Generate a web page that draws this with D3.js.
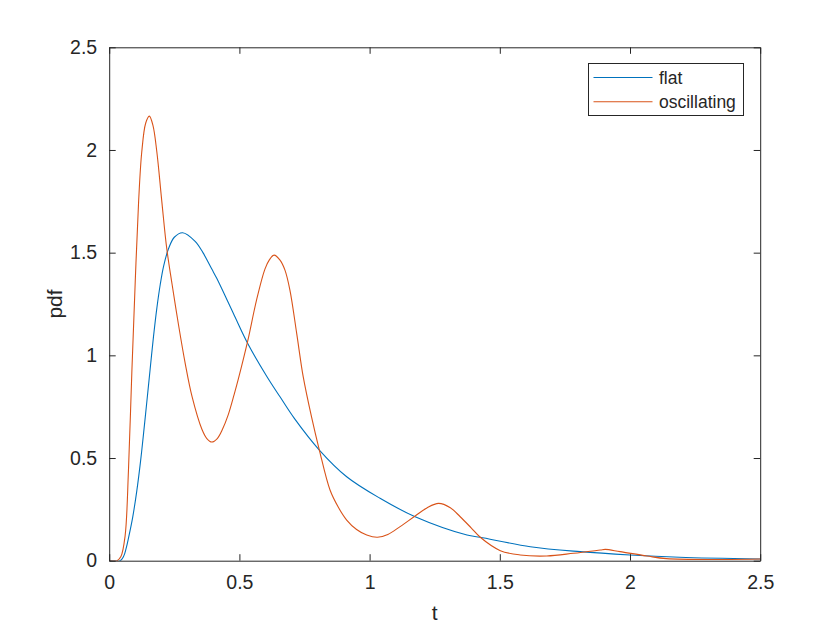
<!DOCTYPE html>
<html>
<head>
<meta charset="utf-8">
<script src="https://cdn.jsdelivr.net/npm/d3@7"></script>
<style>
  html, body { margin: 0; padding: 0; background: #fff; }
  svg { display: block; }
  text { font-family: "Liberation Sans", Arial, Helvetica, sans-serif; fill: #262626; }
</style>
</head>
<body>
<svg id="chart" width="840" height="630"></svg>
<script>
// ---- data ----
const seriesNames = ["flat", "oscillating"];

const tFlat = [0, 0.042, 0.055, 0.065, 0.074, 0.09, 0.106, 0.12, 0.132, 0.145, 0.157, 0.17, 0.183, 0.196, 0.209, 0.228, 0.25, 0.282, 0.33, 0.36, 0.394, 0.413, 0.477, 0.532, 0.606, 0.656, 0.711, 0.807, 0.912, 1.04, 1.175, 1.374, 1.425, 1.617, 1.808, 2.0, 2.19, 2.5];
const pdfFlat = [0, 0, 0.02, 0.06, 0.11, 0.21, 0.34, 0.48, 0.62, 0.78, 0.93, 1.09, 1.23, 1.345, 1.435, 1.52, 1.575, 1.597, 1.555, 1.50, 1.42, 1.375, 1.204, 1.058, 0.896, 0.798, 0.693, 0.539, 0.409, 0.304, 0.214, 0.125, 0.114, 0.068, 0.044, 0.028, 0.017, 0.008];

const tOsc = [0, 0.03, 0.045, 0.061, 0.074, 0.087, 0.1, 0.113, 0.125, 0.14, 0.154, 0.168, 0.183, 0.202, 0.221, 0.241, 0.266, 0.292, 0.318, 0.356, 0.375, 0.394, 0.415, 0.435, 0.457, 0.48, 0.496, 0.532, 0.566, 0.598, 0.615, 0.633, 0.656, 0.675, 0.694, 0.72, 0.745, 0.777, 0.807, 0.848, 0.88, 0.912, 0.95, 0.989, 1.03, 1.07, 1.117, 1.175, 1.22, 1.265, 1.31, 1.348, 1.39, 1.425, 1.502, 1.578, 1.68, 1.783, 1.886, 1.905, 1.962, 2.065, 2.14, 2.35, 2.5];
const pdfOsc = [0, 0, 0.02, 0.12, 0.44, 0.92, 1.36, 1.75, 1.99, 2.13, 2.165, 2.12, 1.99, 1.75, 1.52, 1.35, 1.15, 0.96, 0.80, 0.64, 0.595, 0.578, 0.595, 0.64, 0.71, 0.81, 0.885, 1.07, 1.27, 1.42, 1.465, 1.488, 1.464, 1.415, 1.318, 1.107, 0.896, 0.70, 0.539, 0.344, 0.26, 0.198, 0.152, 0.125, 0.114, 0.128, 0.166, 0.218, 0.257, 0.279, 0.258, 0.214, 0.16, 0.114, 0.049, 0.028, 0.023, 0.036, 0.052, 0.055, 0.044, 0.023, 0.01, 0.006, 0.008];

const xTicks = [0, 0.5, 1, 1.5, 2, 2.5];
const yTicks = [0, 0.5, 1, 1.5, 2, 2.5];
const xLabel = "t";
const yLabel = "pdf";
const colors = ["#0072BD", "#D95319"];

// ---- layout ----
const svg = d3.select("#chart");
const L = 109.2, R = 760.2, T = 47.3, B = 560.7;
const x = d3.scaleLinear().domain([0, 2.5]).range([L, R]);
const y = d3.scaleLinear().domain([0, 2.5]).range([B, T]);
const axisColor = "#262626";
const tickLen = 6.5;
const tickFont = "19.5px";

svg.append("defs").append("clipPath").attr("id", "plotclip")
  .append("rect").attr("x", L).attr("y", T).attr("width", R - L).attr("height", B - T);

const g = svg.append("g");

// lines
const series = [
  { name: seriesNames[0], t: tFlat, v: pdfFlat, color: colors[0] },
  { name: seriesNames[1], t: tOsc, v: pdfOsc, color: colors[1] }
];
const line = d3.line().x(d => x(d[0])).y(d => y(Math.max(0, d[1]))).curve(d3.curveCatmullRom.alpha(0.5));
const plot = g.append("g").attr("clip-path", "url(#plotclip)");
series.forEach(s => {
  plot.append("path")
    .datum(s.t.map((t, i) => [t, s.v[i]]))
    .attr("fill", "none")
    .attr("stroke", s.color)
    .attr("stroke-width", 1.1)
    .attr("d", line);
});

// axes (MATLAB-like: inward ticks, box, mirrored ticks)
const fmt = d => d3.format("~g")(d);
const xAxisB = d3.axisBottom(x).tickValues(xTicks).tickSizeInner(-tickLen).tickSizeOuter(0).tickPadding(14).tickFormat(fmt);
const yAxisL = d3.axisLeft(y).tickValues(yTicks).tickSizeInner(-tickLen).tickSizeOuter(0).tickPadding(12).tickFormat(fmt);
const xAxisT = d3.axisTop(x).tickValues(xTicks).tickSizeInner(-tickLen).tickSizeOuter(0).tickFormat("");
const yAxisR = d3.axisRight(y).tickValues(yTicks).tickSizeInner(-tickLen).tickSizeOuter(0).tickFormat("");

function style(sel) {
  sel.selectAll("path.domain").attr("stroke", axisColor).attr("stroke-width", 1);
  sel.selectAll(".tick line").attr("stroke", axisColor).attr("stroke-width", 1);
  sel.selectAll(".tick text").style("font-size", tickFont).attr("fill", axisColor)
     .style("font-family", '"Liberation Sans", Arial, sans-serif');
}
const gxB = g.append("g").attr("transform", `translate(0,${B})`).call(xAxisB); style(gxB);
const gyL = g.append("g").attr("transform", `translate(${L},0)`).call(yAxisL); style(gyL);
const gxT = g.append("g").attr("transform", `translate(0,${T})`).call(xAxisT); style(gxT);
const gyR = g.append("g").attr("transform", `translate(${R},0)`).call(yAxisR); style(gyR);

// axis labels
g.append("text").attr("x", (L + R) / 2).attr("y", 620).attr("text-anchor", "middle")
  .style("font-size", "21px").text(xLabel);
g.append("text").attr("transform", `translate(62,${(T + B) / 2}) rotate(-90)`)
  .attr("text-anchor", "middle").style("font-size", "21px").text(yLabel);

// legend
const lg = g.append("g");
lg.append("rect").attr("x", 588.5).attr("y", 63.5).attr("width", 155).attr("height", 52)
  .attr("fill", "#fff").attr("stroke", axisColor).attr("stroke-width", 1);
series.forEach((s, i) => {
  const yy = 77.5 + i * 24.3;
  lg.append("line").attr("x1", 593.5).attr("x2", 652.5).attr("y1", yy).attr("y2", yy)
    .attr("stroke", s.color).attr("stroke-width", 1.1);
  lg.append("text").attr("x", 659).attr("y", yy + 6.5).style("font-size", "17.5px").text(s.name);
});
</script>
</body>
</html>
